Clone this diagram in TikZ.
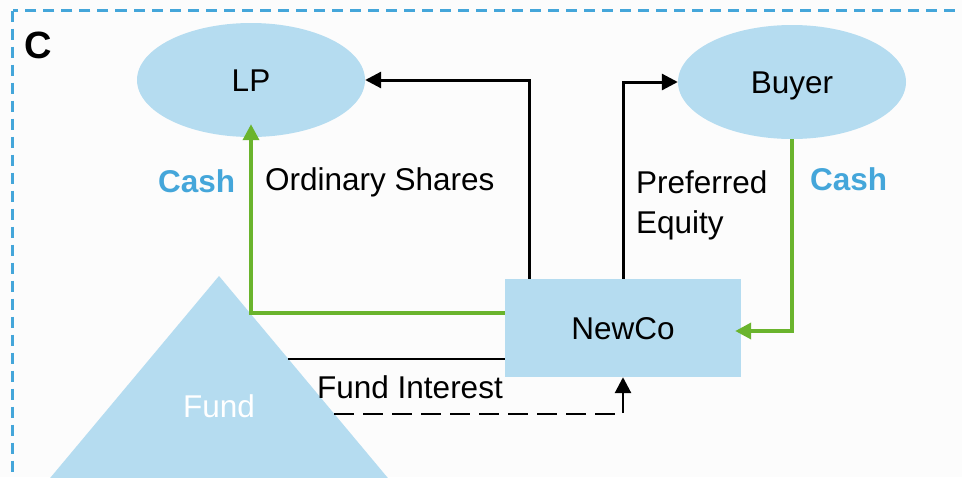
\documentclass[tikz,border=0pt]{standalone}
\usepackage{fontspec}
\setmainfont{Liberation Sans}
\usetikzlibrary{arrows.meta,shapes.geometric,calc}
\definecolor{nodeblue}{RGB}{181,220,240}
\definecolor{cashblue}{RGB}{68,166,218}
\definecolor{flowgreen}{RGB}{106,180,45}
\definecolor{bg}{RGB}{252,252,252}
\begin{document}
\begin{tikzpicture}[x=1pt,y=-1pt,
  lbl/.style={font=\fontsize{31.5}{40}\selectfont, inner sep=0pt, anchor=base west},
  cashlbl/.style={lbl, font=\bfseries\fontsize{31.5}{40}\selectfont, text=cashblue},
  entity/.style={fill=nodeblue, draw=none, inner sep=0pt, font=\fontsize{31.5}{40}\selectfont, text height=23pt, text depth=0pt},
  flow/.style={draw=black, line width=3pt, -{Triangle[length=16pt,width=16pt]}},
  cashflow/.style={draw=flowgreen, line width=3.6pt, -{Triangle[length=16pt,width=16pt]}},
]
\useasboundingbox (0,0) rectangle (962,477);
\clip (0,0) rectangle (962,477);
\fill[bg] (0,0) rectangle (962,477);
% frame
\draw[cashblue, line width=3.2pt, dash pattern=on 11pt off 7pt] (12.5,10.5) rectangle (1000,520);
\node[font=\bfseries\fontsize{38}{40}\selectfont, anchor=base west, inner sep=0pt] (clabel) at (24,58) {C};
% entities
\node[entity, ellipse, minimum width=228pt, minimum height=114pt] (lp) at (251,80) {LP};
\node[entity, ellipse, minimum width=228pt, minimum height=114pt] (buyer) at (792,82) {Buyer};
\node[entity, rectangle, minimum width=236pt, minimum height=98pt] (newco) at (623,328) {NewCo};
% fund triangle
\fill[nodeblue] (219,276) -- (423,520) -- (15,520) -- cycle;
\node[lbl, anchor=base, text=white] (fund) at (219,417) {Fund};
\coordinate (fe1) at (250,313);
\coordinate (fe2) at (288,359);
\coordinate (fe3) at (334,414);
% connectors
\draw[cashflow, shorten >=-13pt] ($(newco.west)+(0,-15)$) -| (lp.south);
\draw[flow] ($(newco.north)+(-94,0)$) |- (lp.east);
\draw[flow] (newco.north) |- (buyer.west);
\draw[cashflow, shorten >=-6pt] (buyer.south) |- ($(newco.east)+(0,3)$);
\draw[line width=1.4pt] (fe2) -- (newco.west |- fe2);
\draw[flow, line width=2.8pt, dash pattern=on 20pt off 9pt] (fe3) -| (newco.south);
% labels
\node[cashlbl] (cash1) at (158,192) {Cash};
\node[lbl] (ord) at (265,190) {Ordinary Shares};
\node[lbl] (pref1) at (636,193) {Preferred};
\node[lbl] (pref2) at (636,233) {Equity};
\node[cashlbl] (cash2) at (810,190) {Cash};
\node[lbl] (fi) at (317,398) {Fund Interest};
\end{tikzpicture}
\end{document}
